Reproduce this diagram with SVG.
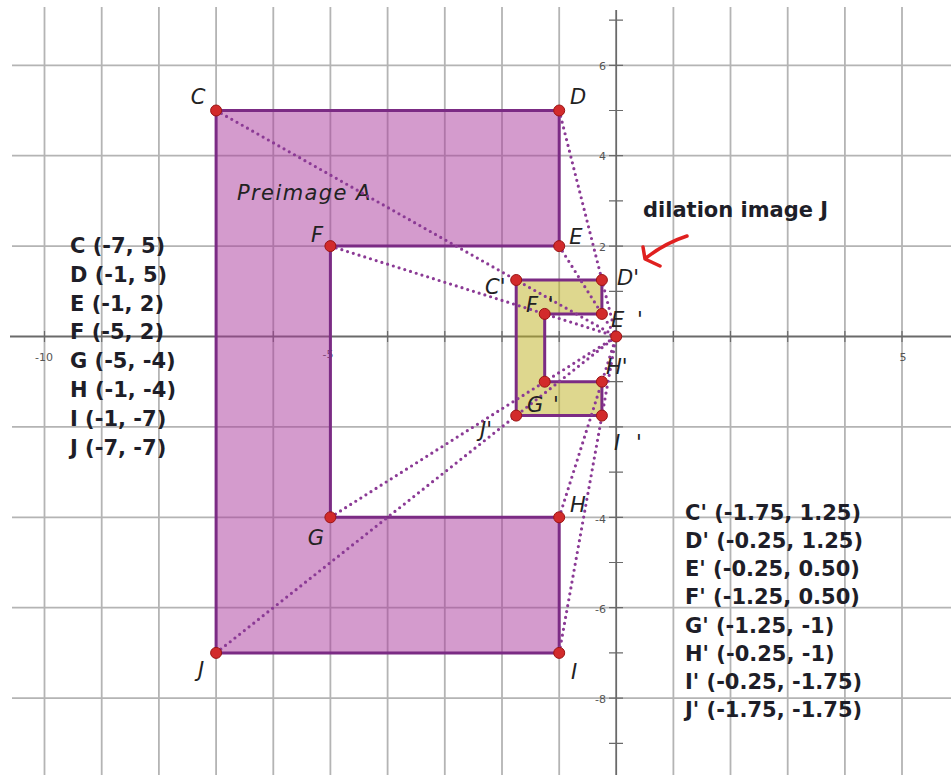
<svg xmlns="http://www.w3.org/2000/svg" width="951" height="775" viewBox="0 0 951 775">
<style>
.grid{stroke:#b4b4b4;stroke-width:1.8;fill:none}
.axis{stroke:#6a6a6a;stroke-width:1.8;fill:none}
.tick{stroke:#6a6a6a;stroke-width:1.2}
.albl{font-family:"DejaVu Sans",sans-serif;font-size:11px;fill:#555}
.pre{fill:rgb(169,55,155);fill-opacity:0.5;stroke:#7b2b84;stroke-width:3;stroke-linejoin:round}
.img{fill:rgb(190,175,30);fill-opacity:0.5;stroke:#7b2b84;stroke-width:3;stroke-linejoin:round}
.ray{stroke:#8b3a95;stroke-width:3.2;stroke-linecap:round;stroke-dasharray:0 6;fill:none}
.pt{fill:#d22b2b;stroke:#9a1515;stroke-width:1}
.plbl{font-family:"DejaVu Sans",sans-serif;font-style:italic;font-size:21px;fill:#222}
.list{font-family:"DejaVu Sans",sans-serif;font-weight:bold;font-size:21px;fill:#1e1e28}
</style>
<rect width="951" height="775" fill="#fff"/>
<g id="grid">
<path class="grid" d="M44.5 7V775M101.7 7V775M158.9 7V775M216.1 7V775M273.3 7V775M330.4 7V775M387.6 7V775M444.8 7V775M502 7V775M559.2 7V775M673.4 7V775M730.5 7V775M787.7 7V775M844.9 7V775M902 7V775"/>
<path class="grid" d="M12 65.3H951M12 155.7H951M12 246.1H951M12 426.9H951M12 517.3H951M12 607.7H951M12 698.1H951"/>
</g>
<g id="axes">
<path class="axis" d="M10 336.5H951M616.2 10V775"/>
<path class="tick" d="M609 20.1h14M609 65.3h14M609 110.5h14M609 155.7h14M609 200.9h14M609 246.1h14M609 291.3h14M609 381.7h14M609 426.9h14M609 472.1h14M609 517.3h14M609 562.5h14M609 607.7h14M609 652.9h14M609 698.1h14M609 743.3h14"/>
<path class="tick" d="M44.5 331v11M101.7 331v11M158.9 331v11M216.1 331v11M273.3 331v11M330.4 331v11M387.6 331v11M444.8 331v11M502 331v11M559.2 331v11M673.4 331v11M730.5 331v11M787.7 331v11M844.9 331v11M902 331v11"/>
<text class="albl" x="606" y="70" text-anchor="end">6</text>
<text class="albl" x="606" y="160" text-anchor="end">4</text>
<text class="albl" x="606" y="251" text-anchor="end">2</text>
<text class="albl" x="606" y="523" text-anchor="end">-4</text>
<text class="albl" x="606" y="613" text-anchor="end">-6</text>
<text class="albl" x="606" y="703" text-anchor="end">-8</text>
<text class="albl" x="44" y="361" text-anchor="middle">-10</text>
<text class="albl" x="328" y="358" text-anchor="middle">-5</text>
<text class="albl" x="903" y="361" text-anchor="middle">5</text>
</g>
<g id="preimage">
<polygon class="pre" points="216.1,110.5 559.2,110.5 559.2,246.1 330.4,246.1 330.4,517.3 559.2,517.3 559.2,652.9 216.1,652.9"/>
<text class="plbl" x="237" y="200" font-size="22" letter-spacing="1.4" fill="#333">Preimage A</text>
</g>
<g id="image">
<polygon class="img" points="516.2,280 601.9,280 601.9,313.9 544.7,313.9 544.7,381.7 601.9,381.7 601.9,415.6 516.2,415.6"/>
</g>
<g id="connectors">
<path class="ray" d="M216.1 110.5L616.2 336.5M559.2 110.5L616.2 336.5M559.2 246.1L616.2 336.5M330.4 246.1L616.2 336.5M330.4 517.3L616.2 336.5M559.2 517.3L616.2 336.5M559.2 652.9L616.2 336.5M216.1 652.9L616.2 336.5"/>
</g>
<g id="points">
<circle class="pt" cx="216.1" cy="110.5" r="5.5"/>
<circle class="pt" cx="559.2" cy="110.5" r="5.5"/>
<circle class="pt" cx="559.2" cy="246.1" r="5.5"/>
<circle class="pt" cx="330.4" cy="246.1" r="5.5"/>
<circle class="pt" cx="330.4" cy="517.3" r="5.5"/>
<circle class="pt" cx="559.2" cy="517.3" r="5.5"/>
<circle class="pt" cx="559.2" cy="652.9" r="5.5"/>
<circle class="pt" cx="216.1" cy="652.9" r="5.5"/>
<circle class="pt" cx="516.2" cy="280" r="5.5"/>
<circle class="pt" cx="601.9" cy="280" r="5.5"/>
<circle class="pt" cx="601.9" cy="313.9" r="5.5"/>
<circle class="pt" cx="544.7" cy="313.9" r="5.5"/>
<circle class="pt" cx="544.7" cy="381.7" r="5.5"/>
<circle class="pt" cx="601.9" cy="381.7" r="5.5"/>
<circle class="pt" cx="601.9" cy="415.6" r="5.5"/>
<circle class="pt" cx="516.2" cy="415.6" r="5.5"/>
<circle class="pt" cx="616.2" cy="336.5" r="5.5"/>
</g>
<g id="labels">
<text class="plbl" x="198" y="104" text-anchor="middle">C</text>
<text class="plbl" x="578" y="104" text-anchor="middle">D</text>
<text class="plbl" x="576" y="244" text-anchor="middle">E</text>
<text class="plbl" x="317" y="242" text-anchor="middle">F</text>
<text class="plbl" x="316" y="545" text-anchor="middle">G</text>
<text class="plbl" x="578" y="512" text-anchor="middle">H</text>
<text class="plbl" x="574" y="679" text-anchor="middle">I</text>
<text class="plbl" x="201" y="677" text-anchor="middle">J</text>
<text class="plbl" x="485" y="294">C'</text>
<text class="plbl" x="617" y="285">D'</text>
<text class="plbl" x="611" y="327">E <tspan dx="6">'</tspan></text>
<text class="plbl" x="526" y="312">F <tspan dx="3">'</tspan></text>
<text class="plbl" x="606" y="374">H'</text>
<text class="plbl" x="527" y="412">G <tspan dx="3">'</tspan></text>
<text class="plbl" x="480" y="437">J'</text>
<text class="plbl" x="614" y="450">I <tspan dx="9">'</tspan></text>
</g>
<g id="annotation">
<text class="list" x="643" y="217" font-size="20">dilation image J</text>
<path d="M687 236Q665 243 646 258M643 247L645 259L660 266" fill="none" stroke="#e0201f" stroke-width="3.5" stroke-linecap="round" stroke-linejoin="round"/>
</g>
<g id="preimage-coords">
<text class="list" x="70" y="253">C (-7, 5)</text>
<text class="list" x="70" y="282">D (-1, 5)</text>
<text class="list" x="70" y="311">E (-1, 2)</text>
<text class="list" x="70" y="339">F (-5, 2)</text>
<text class="list" x="70" y="368">G (-5, -4)</text>
<text class="list" x="70" y="397">H (-1, -4)</text>
<text class="list" x="70" y="426">I (-1, -7)</text>
<text class="list" x="70" y="455">J (-7, -7)</text>
</g>
<g id="image-coords">
<text class="list" x="685" y="520">C' (-1.75, 1.25)</text>
<text class="list" x="685" y="548">D' (-0.25, 1.25)</text>
<text class="list" x="685" y="576">E' (-0.25, 0.50)</text>
<text class="list" x="685" y="604">F' (-1.25, 0.50)</text>
<text class="list" x="685" y="633">G' (-1.25, -1)</text>
<text class="list" x="685" y="661">H' (-0.25, -1)</text>
<text class="list" x="685" y="689">I' (-0.25, -1.75)</text>
<text class="list" x="685" y="717">J' (-1.75, -1.75)</text>
</g>
</svg>
